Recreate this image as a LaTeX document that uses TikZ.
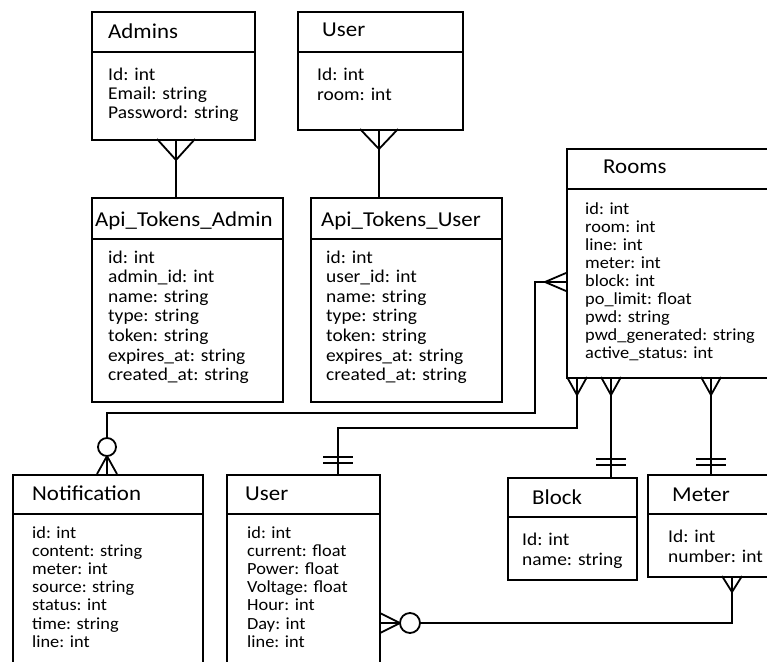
\documentclass[tikz,border=0pt]{standalone}
\usepackage{fontspec}
\setmainfont{Carlito}[FakeStretch=1.08]
\newcommand\flds[2]{\vtop{\baselineskip=#1pt\lineskiplimit=-30pt\lineskip=0pt\relax #2}}
\begin{document}
\begin{tikzpicture}[x=1pt,y=-1pt,
  ent/.style={draw, line width=1.8pt, anchor=north west, inner sep=0pt},
  hd/.style={anchor=base west, inner sep=0pt, font=\fontsize{21.2}{22}\selectfont},
  bd/.style={anchor=base west, inner sep=0pt, font=\fontsize{18}{19.6}\selectfont},
  bds/.style={anchor=base west, inner sep=0pt, font=\fontsize{17}{18.2}\selectfont},
  ln/.style={line width=1.8pt},
  ring/.style={line width=1.8pt, fill=white}]
\useasboundingbox (0,0) rectangle (767,661);
\fill[white] (0,0) rectangle (767,661);
\clip (0,0) rectangle (767,661);

% entities
\node[ent, minimum width=163pt, minimum height=128pt] (admins) at (91,11) {};
\node[ent, minimum width=165pt, minimum height=118pt] (usertop) at (297,11) {};
\node[ent, minimum width=191pt, minimum height=204pt] (apiadmin) at (91,197) {};
\node[ent, minimum width=191pt, minimum height=204pt] (apiuser) at (310,197) {};
\node[ent, minimum width=240pt, minimum height=229pt] (rooms) at (566,148) {};
\node[ent, minimum width=190pt, minimum height=250pt] (notif) at (12,474) {};
\node[ent, minimum width=153pt, minimum height=250pt] (userbot) at (226,474) {};
\node[ent, minimum width=129pt, minimum height=102pt] (block) at (507,477) {};
\node[ent, minimum width=160pt, minimum height=102pt] (meter) at (647,474) {};

\foreach \n/\o in {admins/41, usertop/41, apiadmin/42, apiuser/42, rooms/41, notif/40, userbot/40, block/40, meter/40}
  \draw[ln] ([yshift=-\o pt]\n.north west) -- ([yshift=-\o pt]\n.north east);

% titles
\node[hd] (admins-t) at (108,38) {Admins};
\node[hd] (usertop-t) at (322,37) {User};
\node[hd] (apiadmin-t) at (95,226) {Api\_Tokens\_Admin};
\node[hd] (apiuser-t) at (321,226) {Api\_Tokens\_User};
\node[hd] (rooms-t) at (603,173) {Rooms};
\node[hd] (notif-t) at (32,500) {Notification};
\node[hd] (userbot-t) at (245,500) {User};
\node[hd] (block-t) at (532,504) {Block};
\node[hd] (meter-t) at (672,501) {Meter};

% fields
\node[bd] (admins-f) at (108,80) {\flds{19}{\hbox{Id: int}\hbox{Email: string}\hbox{Password: string}}};
\node[bd] (usertop-f) at (317,80) {\flds{20}{\hbox{Id: int}\hbox{room: int}}};
\node[bd] (apiadmin-f) at (108,263) {\flds{19.6}{\hbox{id: int}\hbox{admin\_id: int}\hbox{name: string}\hbox{type: string}\hbox{token: string}\hbox{expires\_at: string}\hbox{created\_at: string}}};
\node[bd] (apiuser-f) at (326,263) {\flds{19.6}{\hbox{id: int}\hbox{user\_id: int}\hbox{name: string}\hbox{type: string}\hbox{token: string}\hbox{expires\_at: string}\hbox{created\_at: string}}};
\node[bds] (rooms-f) at (585,214) {\flds{18}{\hbox{id: int}\hbox{room: int}\hbox{line: int}\hbox{meter: int}\hbox{block: int}\hbox{po\_limit: float}\hbox{pwd: string}\hbox{pwd\_generated: string}\hbox{active\_status: int}}};
\node[bds] (notif-f) at (32,538) {\flds{18.2}{\hbox{id: int}\hbox{content: string}\hbox{meter: int}\hbox{source: string}\hbox{status: int}\hbox{time: string}\hbox{line: int}}};
\node[bds] (userbot-f) at (247,538) {\flds{18.2}{\hbox{id: int}\hbox{current: float}\hbox{Power: float}\hbox{Voltage: float}\hbox{Hour: int}\hbox{Day: int}\hbox{line: int}}};
\node[bd] (block-f) at (522,545) {\flds{20}{\hbox{Id: int}\hbox{name: string}}};
\node[bd] (meter-f) at (668,542) {\flds{20}{\hbox{Id: int}\hbox{number: int}}};

% connector end points
\coordinate (c1) at ([xshift=85pt]admins.south west);
\coordinate (c2) at ([xshift=82pt]usertop.south west);
\coordinate (c3) at ([yshift=-134pt]rooms.north west);
\coordinate (c4) at ([xshift=11pt]rooms.south west);
\coordinate (c5) at ([xshift=45pt]rooms.south west);
\coordinate (c6) at ([xshift=145pt]rooms.south west);
\coordinate (c7) at ([xshift=85pt]meter.south west);
\coordinate (n1) at ([xshift=95pt]notif.north west);
\coordinate (u1) at ([xshift=112pt]userbot.north west);
\coordinate (u2) at ([yshift=-149pt]userbot.north east);

% connectors
\draw[ln] (c1) -- (c1 |- apiadmin.north);
\draw[ln] (c2) -- (c2 |- apiuser.north);
\draw[ln] (c3) -- ++(-31pt,0) |- ([yshift=61pt]n1) -- (n1);
\draw[ln] (c4) |- ([yshift=46pt]u1) -- (u1);
\draw[ln] (c5) -- (c5 |- block.north);
\draw[ln] (c6) -- (c6 |- meter.north);
\draw[ln] (c7) |- (u2);

% crow's feet (many)
\draw[ln] (157,139) -- (176,160) -- (195,139);
\draw[ln] (360,129) -- (379,149) -- (398,129);
\draw[ln] (566,273) -- (545,282) -- (566,291);
\draw[ln] (567,377) -- (577,395) -- (587,377);
\draw[ln] (601,377) -- (611,395) -- (621,377);
\draw[ln] (701,377) -- (711,395) -- (721,377);
\draw[ln] (97,474) -- (107,456) -- (117,474);
\draw[ln] (722,576) -- (732,592) -- (742,576);
\draw[ln] (380,613) -- (400,623) -- (380,633);

% one (double bars)
\draw[ln] (323,457) -- (353,457) (323,463) -- (353,463);
\draw[ln] (596,459) -- (626,459) (596,465) -- (626,465);
\draw[ln] (696,459) -- (726,459) (696,465) -- (726,465);

% zero (rings)
\draw[ring] (107,447) circle[radius=9pt];
\draw[ring] (410,623) circle[radius=10pt];
\end{tikzpicture}
\end{document}
